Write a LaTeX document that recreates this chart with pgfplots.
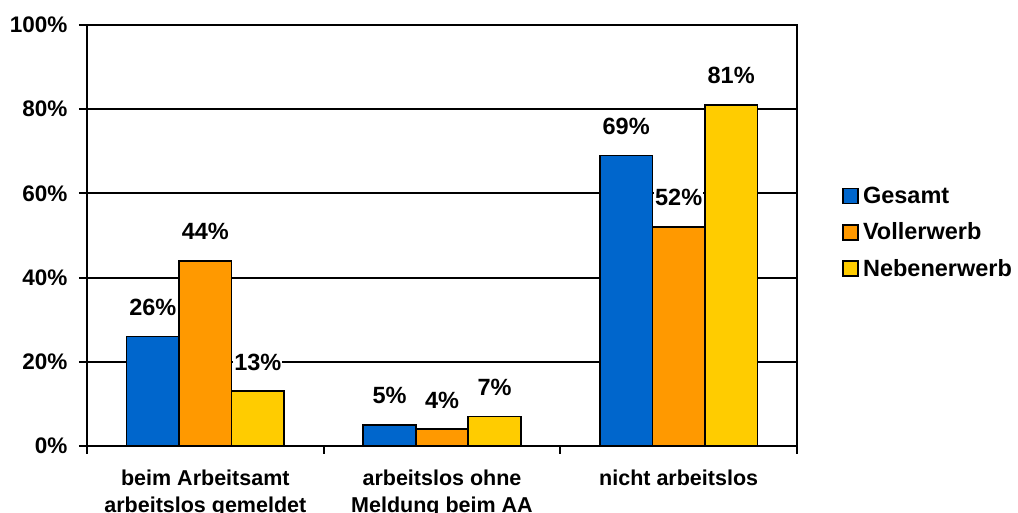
\documentclass[border=0pt]{standalone}
\usepackage{fontspec}
\setmainfont{Liberation Sans}
\usepackage{pgfplots}
\pgfplotsset{compat=1.18}
\definecolor{cBlue}{RGB}{0,102,204}
\definecolor{cOrange}{RGB}{255,153,0}
\definecolor{cYellow}{RGB}{255,204,0}
\newcommand{\lbl}{\fontsize{21.5}{27}\selectfont\bfseries}
\newcommand{\ylbl}{\fontsize{22.5}{27}\selectfont\bfseries}
\newcommand{\biglbl}{\fontsize{23.5}{28}\selectfont\bfseries}
\begin{document}
\begin{tikzpicture}
\begin{axis}[
  at={(87pt,67pt)}, anchor=south west,
  scale only axis, width=710pt, height=421pt,
  line width=2.5pt,
  ybar=0pt, bar width=52.5pt,
  every axis plot/.append style={draw=black, line width=1.8pt,
    legend image code/.code={\draw[##1, line width=1.8pt] (0pt,-7.5pt) rectangle (15pt,7.5pt);}},
  xmin=-0.5, xmax=2.5, ymin=0, ymax=100,
  /pgf/number format/assume math mode=true,
  xtick={-0.5,0.5,1.5,2.5}, xticklabels={},
  extra x ticks={0,1,2},
  extra x tick labels={{beim Arbeitsamt\\arbeitslos gemeldet},{arbeitslos ohne\\Meldung beim AA},{nicht arbeitslos}},
  extra x tick style={tick style={draw=none}, xticklabel style={align=center, font=\lbl, anchor=north, yshift=-11pt}},
  ytick={0,20,40,60,80,100},
  yticklabels={0\%,20\%,40\%,60\%,80\%,100\%},
  yticklabel style={font=\ylbl, xshift=-7pt},
  ytick pos=left, xtick pos=bottom,
  tick align=outside, major tick length=8pt,
  tick style={black, line width=2pt},
  ymajorgrids, grid style={black, line width=2pt},
  axis line style={line width=2.5pt},
  nodes near coords={\pgfmathprintnumber{\pgfplotspointmeta}\%},
  nodes near coords style={font=\biglbl, fill=white, inner sep=1pt, anchor=south, yshift=19pt},
  legend style={at={(axis description cs:1,0.507)}, anchor=west, xshift=41pt,
    draw=none, fill=none, font=\biglbl, row sep=14pt, cells={anchor=west},
    nodes={inner xsep=4pt}},
]
\addplot[fill=cBlue] coordinates {(0,26) (1,5) (2,69)};
\addplot[fill=cOrange] coordinates {(0,44) (1,4) (2,52)};
\addplot[fill=cYellow] coordinates {(0,13) (1,7) (2,81)};
\legend{Gesamt,Vollerwerb,Nebenerwerb}
\end{axis}
\pgfresetboundingbox
\useasboundingbox (0,0) rectangle (1018pt,513pt);
\end{tikzpicture}
\end{document}
